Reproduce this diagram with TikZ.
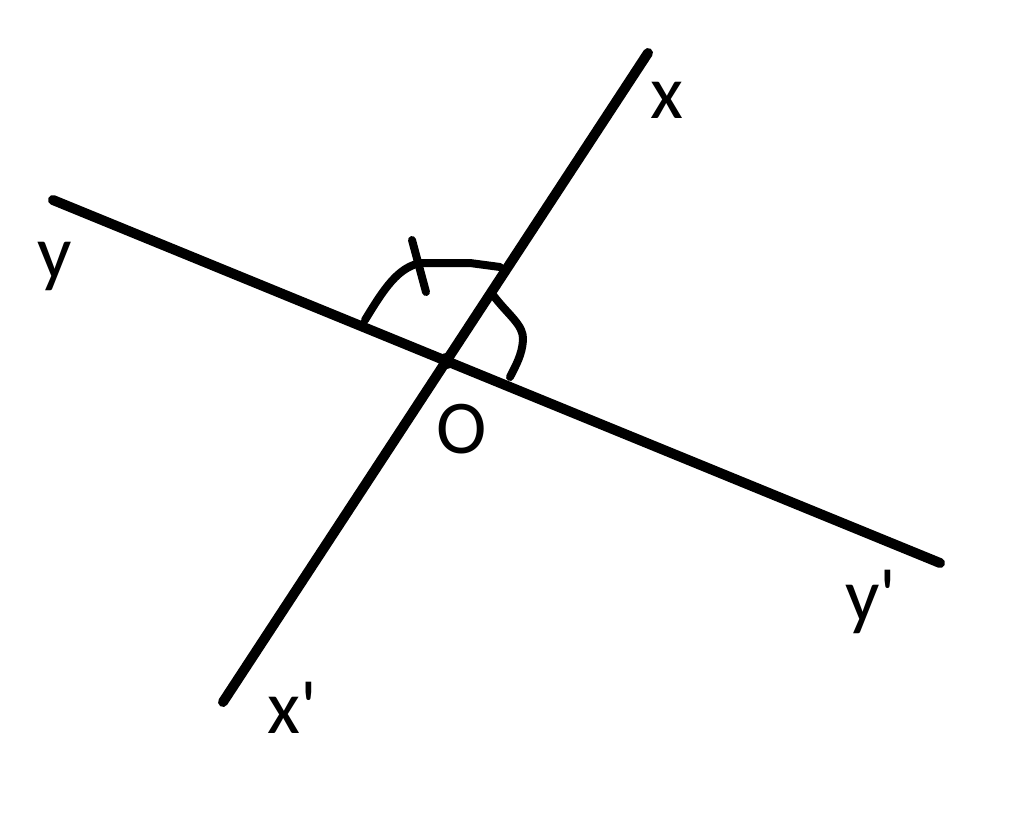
\documentclass[tikz,border=0pt]{standalone}
\usepackage{fontspec}
\newfontfamily\lab{Carlito}[Ligatures=TeXOff]
\begin{document}
\begin{tikzpicture}[x=1pt,y=-1pt,
  axis/.style={line width=10pt,line cap=round},
  anglemark/.style={line width=8pt,line cap=round,line join=round},
  lbl/.style={inner sep=0pt,anchor=base west,font=\lab\fontsize{76}{80}\selectfont}]
\useasboundingbox (0,0) rectangle (1024,817);
\coordinate (xp) at (223,702);
\coordinate (xe) at (648,53);
\coordinate (ye) at (53,200);
\coordinate (yp) at (940,563);
\coordinate (O) at (intersection of xp--xe and ye--yp);
\draw[axis] (xp) -- (xe);
\draw[axis] (ye) -- (yp);
\fill (O) circle (8pt);
% angle marks
\coordinate (a1) at (365,320);
\coordinate (a2) at (420,263);
\coordinate (a3) at (470,263);
\coordinate (a4) at (500,267);
\draw[anglemark] (a1) .. controls (385,287) and (398,268) .. (a2) -- (a3) -- (a4);
\coordinate (b1) at (493,295);
\coordinate (b2) at (523,340);
\coordinate (b3) at (510,377);
\draw[anglemark] (b1) .. controls (508,315) and (524,325) .. (b2) .. controls (522,355) and (516,365) .. (b3);
\coordinate (t1) at (412,240);
\coordinate (t2) at (426,292);
\draw[anglemark] (t1) -- (t2);
% labels
\node[lbl] (lx) at (650,118) {x};
\node[lbl] (ly) at (37,278) {y};
\node[lbl] (lO) at (436,453) {O};
\node[lbl] (lyp) at (845,621) {y'};
\node[lbl] (lxp) at (267,733) {x'};
\end{tikzpicture}
\end{document}
